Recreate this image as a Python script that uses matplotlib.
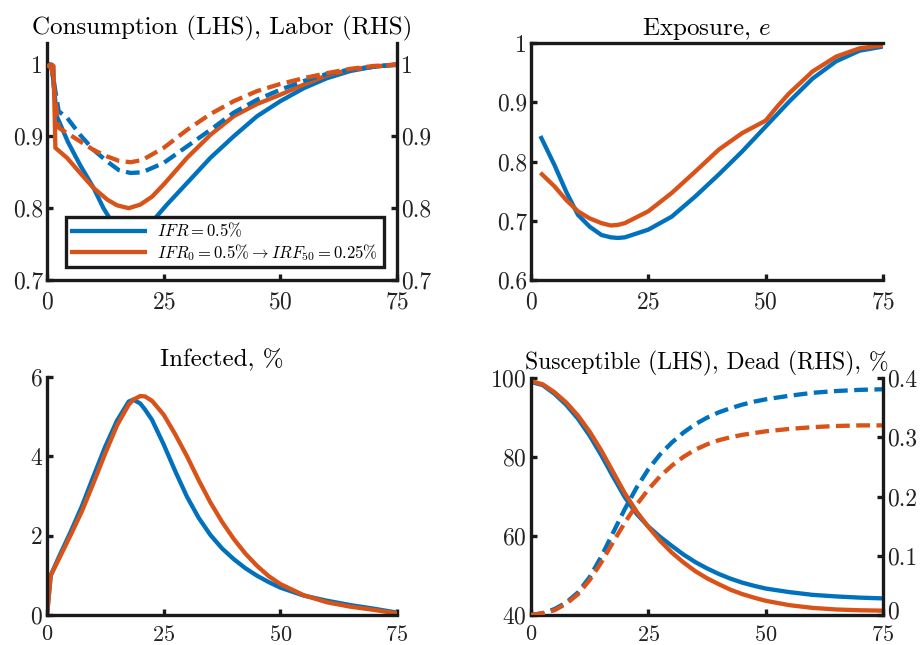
import matplotlib
matplotlib.use("Agg")
import matplotlib.pyplot as plt
from matplotlib.transforms import offset_copy

plt.rcParams['font.family'] = 'serif'
plt.rcParams['font.serif'] = ['cmr10', 'DejaVu Serif']
plt.rcParams['mathtext.fontset'] = 'cm'
plt.rcParams['axes.formatter.use_mathtext'] = True

BLUE = '#0072BD'
ORANGE = '#D95319'
SPINE = '#1a1a1a'

# ---------------- data ----------------
# Consumption (LHS)
t_cb = [0, 1, 2.1, 4.5, 7.1, 10, 12.1, 13.9, 16, 18.5, 21, 22.9, 25.7, 30, 35, 40, 45, 50,
        55, 60, 65, 70, 75]
cons_blue = [1.0, 1.0, 0.928, 0.892, 0.860, 0.828, 0.800, 0.781, 0.768, 0.764, 0.770, 0.784,
             0.805, 0.835, 0.870, 0.900, 0.928, 0.949, 0.967, 0.981, 0.991, 0.997, 1.0]
t_co = [0, 0.6, 1.4, 1.8, 4.3, 7.1, 10, 12.9, 15, 17.5, 20, 22.5, 25, 30, 35, 40, 45, 50, 55,
        60, 65, 70, 75]
cons_orange = [1.0, 1.0, 0.998, 0.884, 0.870, 0.849, 0.828, 0.812, 0.804, 0.800, 0.805, 0.816,
               0.833, 0.870, 0.902, 0.928, 0.945, 0.958, 0.972, 0.985, 0.993, 0.997, 1.0]
# Labor (RHS)
t_lb = [0, 1, 2.5, 4.3, 7.1, 10, 12.9, 15.4, 17.9, 20.4, 25, 30, 35, 40, 45, 50, 55, 60, 65,
        70, 75]
lab_blue = [1.0, 0.995, 0.935, 0.926, 0.902, 0.881, 0.865, 0.853, 0.849, 0.850, 0.863, 0.886,
            0.909, 0.933, 0.951, 0.965, 0.977, 0.987, 0.993, 0.997, 1.0]
t_lo = [0, 1, 2.5, 7.1, 10, 12.9, 15.4, 17.9, 20.4, 25, 30, 35, 40, 45, 50, 55, 60, 65, 70, 75]
lab_orange = [1.0, 0.995, 0.912, 0.893, 0.881, 0.872, 0.866, 0.864, 0.867, 0.884, 0.909,
              0.931, 0.949, 0.963, 0.973, 0.981, 0.988, 0.994, 0.998, 1.0]

# Exposure
t_e = [2, 5, 7.5, 10, 12.5, 15, 17, 18.5, 20, 25, 30, 35, 40, 45, 50, 52.5, 55, 60, 65, 70, 75]
exp_blue = [0.843, 0.794, 0.749, 0.710, 0.690, 0.676, 0.672, 0.671, 0.672, 0.685, 0.707,
            0.741, 0.778, 0.817, 0.859, 0.880, 0.901, 0.940, 0.969, 0.987, 0.994]
exp_orange = [0.781, 0.758, 0.735, 0.716, 0.704, 0.696, 0.692, 0.693, 0.696, 0.716, 0.747,
              0.783, 0.820, 0.848, 0.869, 0.893, 0.915, 0.952, 0.977, 0.991, 0.996]

# Infected
t_i = [0, 0.8, 2.5, 5, 7.5, 10, 12.5, 15, 17.5, 18.5, 20, 21, 22.5, 25, 27.5, 30, 32.5, 35,
       37.5, 40, 42.5, 45, 47.5, 50, 55, 60, 65, 70, 75]
inf_blue = [0.0, 1.0, 1.45, 2.08, 2.75, 3.51, 4.25, 4.90, 5.38, 5.43, 5.33, 5.18, 4.92, 4.30,
            3.62, 2.98, 2.45, 2.02, 1.68, 1.41, 1.18, 0.99, 0.83, 0.69, 0.49, 0.36, 0.25,
            0.16, 0.06]
inf_orange = [0.0, 1.0, 1.40, 2.00, 2.62, 3.34, 4.08, 4.78, 5.30, 5.43, 5.52, 5.51, 5.40,
              5.05, 4.55, 4.00, 3.40, 2.84, 2.35, 1.92, 1.55, 1.24, 0.98, 0.78, 0.50, 0.32,
              0.21, 0.13, 0.04]

# Susceptible (LHS) / Dead (RHS)
t_s = [0, 2.5, 5, 7.5, 10, 12.5, 15, 17.5, 20, 22.5, 25, 27.5, 30, 32.5, 35, 37.5, 40, 42.5,
       45, 47.5, 50, 55, 60, 65, 70, 75]
sus_blue = [99.0, 98.2, 96.0, 93.2, 89.7, 85.4, 80.4, 75.0, 69.8, 65.6, 62.4, 59.8, 57.5,
            55.3, 53.4, 51.8, 50.4, 49.2, 48.2, 47.4, 46.7, 45.8, 45.1, 44.7, 44.4, 44.2]
sus_orange = [99.2, 98.4, 96.4, 93.8, 90.5, 86.4, 81.6, 76.2, 70.8, 66.2, 62.3, 58.8, 55.8,
              53.3, 51.1, 49.3, 47.8, 46.4, 45.3, 44.4, 43.6, 42.5, 41.8, 41.4, 41.2, 41.1]
dead_blue = [0.0, 0.003, 0.010, 0.021, 0.038, 0.064, 0.099, 0.139, 0.179, 0.215, 0.246,
             0.271, 0.291, 0.308, 0.322, 0.333, 0.342, 0.349, 0.355, 0.360, 0.364, 0.370,
             0.375, 0.378, 0.380, 0.381]
dead_orange = [0.0, 0.003, 0.008, 0.019, 0.035, 0.059, 0.089, 0.123, 0.156, 0.186, 0.212,
               0.234, 0.252, 0.267, 0.279, 0.288, 0.295, 0.300, 0.304, 0.307, 0.310, 0.314,
               0.317, 0.319, 0.320, 0.320]

xticks = [0, 25, 50, 75]
labels = [r'$IFR = 0.5\%$', r'$IFR_0 = 0.5\% \rightarrow IRF_{50} = 0.25\%$']

# ---------------- figure ----------------
W, H = 922, 645
fig = plt.figure(figsize=(W / 100, H / 100), dpi=100)

def box(l, t, r, b):
    return [l / W, 1 - b / H, (r - l) / W, (b - t) / H]

LW = 3.1
DASH = (3.2, 1.5)
TFS = 18
TICKFS = 17

def style(ax, left=True, right=False, top=False, bottom=True, xpad=8, xsize=TICKFS):
    for s, v in zip(['left', 'right', 'top', 'bottom'], [left, right, top, bottom]):
        ax.spines[s].set_visible(v)
        ax.spines[s].set_linewidth(2.4)
        ax.spines[s].set_color(SPINE)
    ax.tick_params(direction='in', length=4, width=2.4, color=SPINE,
                   labelsize=TICKFS, labelcolor='#222222')
    ax.tick_params(axis='y', pad=3)
    ax.tick_params(axis='x', pad=xpad, labelsize=xsize)
    ax.set_xlim(0, 75)
    ax.set_xticks(xticks)

def line(ax, x, y, c, dashed=False):
    kw = dict(color=c, lw=LW, solid_capstyle='butt', solid_joinstyle='round')
    if dashed:
        kw['dashes'] = DASH
    return ax.plot(x, y, **kw)[0]

# Top-left
ax1 = fig.add_axes(box(47, 43, 397, 280))
style(ax1)
h1 = line(ax1, t_cb, cons_blue, BLUE)
h2 = line(ax1, t_co, cons_orange, ORANGE)
ax1.set_ylim(0.7, 1.03)
ax1.set_yticks([0.7, 0.8, 0.9, 1.0])
ax1.set_yticklabels(['0.7', '0.8', '0.9', '1'])
ax1b = ax1.twinx()
style(ax1b, left=False, right=True, bottom=False)
line(ax1b, t_lb, lab_blue, BLUE, dashed=True)
line(ax1b, t_lo, lab_orange, ORANGE, dashed=True)
ax1b.set_ylim(0.7, 1.03)
ax1b.set_yticks([0.7, 0.8, 0.9, 1.0])
ax1b.set_yticklabels(['0.7', '0.8', '0.9', '1'])
ax1.set_title('Consumption (LHS), Labor (RHS)', fontsize=TFS, pad=6)
leg = ax1b.legend([h1, h2], labels, loc='lower left',
                  bbox_to_anchor=(0.054, 0.055, 0.909, 0.198), mode='expand',
                  fontsize=12, handlelength=4.6, frameon=True, fancybox=False,
                  borderpad=0.25, labelspacing=0.15, handletextpad=0.6, borderaxespad=0)
leg.get_frame().set_edgecolor(SPINE)
leg.get_frame().set_linewidth(2.4)
leg.get_frame().set_alpha(1)

# Top-right
ax2 = fig.add_axes(box(531, 43, 883, 280))
style(ax2, top=True)
line(ax2, t_e, exp_blue, BLUE)
line(ax2, t_e, exp_orange, ORANGE)
ax2.set_ylim(0.6, 1.0)
ax2.set_yticks([0.6, 0.7, 0.8, 0.9, 1.0])
ax2.set_yticklabels(['0.6', '0.7', '0.8', '0.9', '1'])
ax2.set_title('Exposure, $e$', fontsize=TFS, pad=6)

# Bottom-left
ax3 = fig.add_axes(box(47, 377, 397, 615))
style(ax3, xpad=7, xsize=16)
line(ax3, t_i, inf_blue, BLUE)
line(ax3, t_i, inf_orange, ORANGE)
ax3.set_ylim(0, 6)
ax3.set_yticks([0, 2, 4, 6])
ax3.set_title('Infected, %', fontsize=TFS, pad=8)

# Bottom-right
ax4 = fig.add_axes(box(531, 378, 883, 615))
style(ax4, xpad=7, xsize=16)
line(ax4, t_s, sus_blue, BLUE)
line(ax4, t_s, sus_orange, ORANGE)
ax4.set_ylim(40, 100)
ax4.set_yticks([40, 60, 80, 100])
ax4b = ax4.twinx()
style(ax4b, left=False, right=True, bottom=False)
line(ax4b, t_s, dead_blue, BLUE, dashed=True)
line(ax4b, t_s, dead_orange, ORANGE, dashed=True)
ax4b.set_ylim(0, 0.4)
ax4b.set_yticks([0, 0.1, 0.2, 0.3, 0.4])
ax4b.set_yticklabels(['0', '0.1', '0.2', '0.3', '0.4'])
ax4.set_title('Susceptible (LHS), Dead (RHS), %', fontsize=17, pad=6)

# nudge the right-axis "0" label up slightly so it does not collide with "75"
t0 = ax4b.yaxis.get_major_ticks()[0]
t0.label2.set_transform(offset_copy(t0.label2.get_transform(), fig=fig, x=0, y=5,
                                    units='dots'))

fig.savefig('out.png', dpi=100)
